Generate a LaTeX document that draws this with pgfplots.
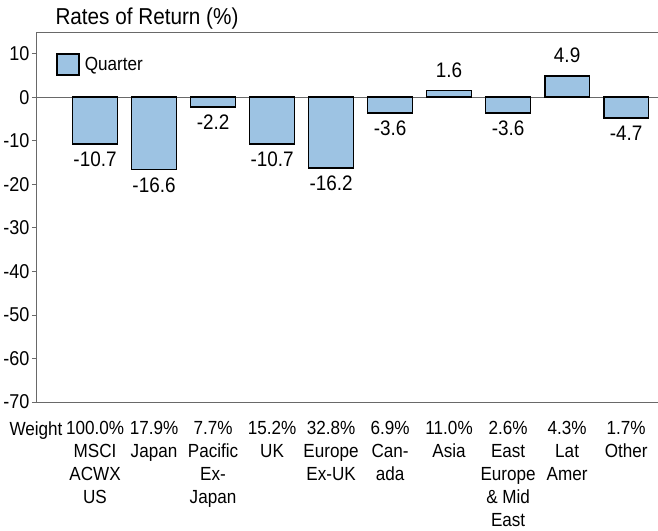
\documentclass[border=0pt]{standalone}
\usepackage{fontspec}
\setmainfont{Liberation Sans}[FakeStretch=0.9]
\usepackage{pgfplots}
\pgfplotsset{compat=1.18}
\definecolor{barblue}{RGB}{157,195,227}
\definecolor{axgray}{RGB}{105,105,105}
\begin{document}
\begin{tikzpicture}
\begin{axis}[
  width=622bp, height=370bp, scale only axis,
  xmin=-1, xmax=9.54, ymin=-70, ymax=15,
  axis line style={draw=none},
  ytick={-70,-60,...,10},
  ytick pos=left,
  tick align=outside,
  major tick length=4bp,
  y tick style={axgray, line width=0.8bp},
  yticklabel style={font=\fontsize{20bp}{24bp}\selectfont, xshift=1bp},
  /pgf/number format/assume math mode=true,
  xtick={0,...,9},
  xticklabels={{100.0\%\\MSCI\\ACWX\\US},{17.9\%\\Japan},{7.7\%\\Pacific\\Ex-\\Japan},{15.2\%\\UK},{32.8\%\\Europe\\Ex-UK},{6.9\%\\Can-\\ada},{11.0\%\\Asia},{2.6\%\\East\\Europe\\\& Mid\\East},{4.3\%\\Lat\\Amer},{1.7\%\\Other}},
  extra x ticks={-1},
  extra x tick labels={Weight},
  x tick style={draw=none},
  xtick pos=bottom,
  xticklabel style={align=center, font=\fontsize{19bp}{23bp}\selectfont, anchor=north, yshift=-12bp},
  extra y ticks={0},
  extra y tick labels={},
  extra y tick style={grid=major, major grid style={axgray, line width=0.8bp}, major tick length=0pt},
  ybar, bar width=0.76,
  nodes near coords={\pgfmathprintnumber[fixed,fixed zerofill,precision=1]{\pgfplotspointmeta}},
  nodes near coords style={font=\fontsize{21bp}{25bp}\selectfont, /pgf/number format/assume math mode=true, inner ysep=9.5bp, yshift=2.5bp},
  legend style={at={(rel axis cs:0,1)}, anchor=north west, draw=none, fill=none, xshift=17bp, yshift=-19bp, font=\fontsize{19bp}{23bp}\selectfont},
  legend image code/.code={\draw[#1] (0bp,-10bp) rectangle (22bp,11bp); \path (25bp,0bp);},
  clip=false,
]
\addplot[fill=barblue, draw=black, line width=1.6bp] coordinates {
(0,-10.7) (1,-16.6) (2,-2.2) (3,-10.7) (4,-16.2) (5,-3.6) (6,1.6) (7,-3.6) (8,4.9) (9,-4.7)};
\addlegendentry{Quarter}
\draw[axgray, line width=0.8bp] (rel axis cs:0,0) -- (rel axis cs:1,0);
\draw[axgray, line width=0.8bp] (rel axis cs:0,0) -- (rel axis cs:0,1);
\draw[axgray, line width=0.8bp] (rel axis cs:0,1) -- (rel axis cs:1,1);
\end{axis}
\node[anchor=base west, font=\fontsize{23bp}{27bp}\selectfont] at (16bp,377bp) {Rates of Return (\%)};
\pgfresetboundingbox
\path (-36bp,-129bp) rectangle (622bp,402bp);
\end{tikzpicture}
\end{document}
